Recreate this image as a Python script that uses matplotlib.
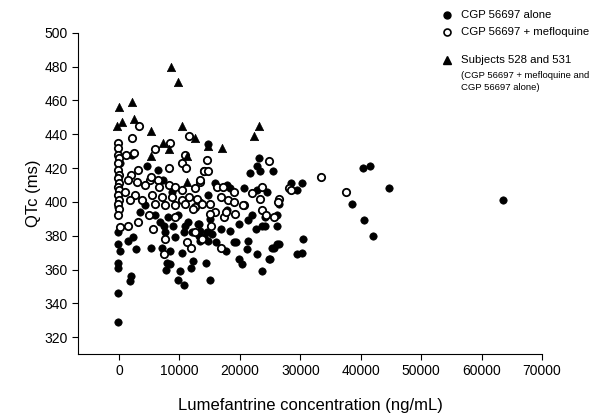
import matplotlib
matplotlib.use('Agg')
import matplotlib.pyplot as plt
from matplotlib.lines import Line2D

plt.rcParams['font.family'] = ['Liberation Sans', 'DejaVu Sans']

# CGP 56697 alone (filled circles)
alone_x = [-100, -200, 200, -100, -100, -100, -100, 200, -200,
           1500, 2300, 2800, 5300, 7100, 7400, 7600, 9000, 9200, 8500, 10500,
           10700, 12100, 13200, 7900, 8500, 7700, 12300, 11900, 10100, 9700,
           10800, 14400, 2000, 1800,
           10900, 13000, 13200, 13400, 15100, 14800, 17900, 22000, 24200, 26200,
           19800, 22600, 23700, 26200, 18400, 16800, 15400, 19000, 21400, 21200,
           26200, 25300, 22800, 24800, 19800, 20300, 23700, 15900, 17900, 20600,
           22800, 24500, 21700, 23400, 25400,
           14800, 23200, 22800, 18400, 13400, 26500, 21400, 24100, 15100, 14500,
           13400, 14000, 14800, 16100, 17700, 19400, 29500,
           40300, 41500, 44600, 28400, 30200, 29500, 38600, 40500, 42100, 30500,
           26500, 25600, 30300, 25000, 63500,
           2100, 4600, 6500, 7200, 8700,
           6800, 8100, 9800, 11400, 6000, 4300, 3500]
alone_y = [382, 375, 371, 364, 361, 346, 329, 423, 397,
           377, 379, 372, 373, 373, 386, 382, 386, 379, 371, 370,
           382, 382, 387, 364, 363, 360, 365, 361, 359, 354,
           351, 364, 356, 353,
           386, 387, 380, 377, 354, 404, 395, 392, 391, 392,
           387, 384, 386, 386, 383, 384, 381, 376, 377, 372,
           375, 373, 369, 366, 366, 363, 359, 411, 410, 408,
           407, 406, 417, 418, 418,
           434, 426, 421, 408, 400, 399, 389, 386, 390, 382,
           383, 379, 377, 376, 371, 376, 369,
           420, 421, 408, 411, 411, 407, 399, 389, 380, 378,
           375, 373, 370, 366, 401,
           428, 421, 419, 413, 406,
           388, 391, 392, 388, 392, 398, 394]

# CGP 56697 + mefloquine (open circles)
combo_x = [-200, -150, -200, 0, -200, -200, 0, -200, 0, -200, 0, -100, 0,
           -200, 0, -100, 200,
           3300, 2100, 8500, 6000, 2500, 1100, 10900, 11600, 10400, 11100,
           14000, 8200, 3200, 2000, 1500, 2900, 5100, 6500, 4300, 6600, 8200,
           9300, 10400, 12600, 13400, 1000, 2700, 5400, 7100, 8700, 10400,
           11500, 12900, 1800, 3800, 6000, 7600, 9300, 12600,
           1500, 3200, 4900, 9300, 10900, 12300, 5700, 7600, 11200, 11900,
           13700, 7400, 12600,
           14500, 24800, 14100, 14800, 13400, 16200, 17200, 22000, 23700,
           16800, 18000, 19000, 23300, 20600, 26500, 26300, 15100,
           13700, 15900, 15000, 17300, 17700, 19200, 20500, 23700, 24400,
           15300, 16800, 19100, 25600,
           33500, 37600, 28200, 28500, 5300]
combo_y = [435, 432, 428, 426, 423, 419, 416, 414, 411, 409, 407, 404, 401,
           399, 396, 392, 385,
           445, 438, 435, 431, 429, 428, 428, 439, 423, 420,
           418, 420, 419, 416, 413, 412, 413, 413, 410, 409, 410,
           409, 407, 408, 412, 406, 404, 404, 403, 403, 401,
           403, 402, 401, 401, 399, 398, 398, 397,
           386, 388, 392, 391, 399, 396, 384, 378, 376, 373,
           378, 369, 382,
           425, 424, 418, 418, 413, 409, 409, 405, 409,
           403, 401, 400, 402, 398, 402, 400, 399,
           399, 394, 393, 391, 394, 393, 398, 395, 392,
           386, 373, 406, 391,
           415, 406, 408, 407, 415]

# Subjects 528 and 531 (filled triangles)
subj_x = [8600, 9700, 0, 2200, -300, 500, 2400, 5300, 10400, 12600, 7200,
          8300, 5300, 11200, 17000, 23100, 22300, 14800, 11300]
subj_y = [480, 471, 456, 459, 445, 447, 449, 442, 445, 438, 435,
          431, 427, 427, 432, 445, 439, 433, 412]

fig = plt.figure(figsize=(5.95, 4.16), dpi=100)
ax = fig.add_axes([0.131, 0.149, 0.78, 0.772])

ax.scatter(alone_x, alone_y, s=28, c='black', edgecolors='black',
           linewidths=0.5, zorder=3)
ax.scatter(combo_x, combo_y, s=28, facecolors='white', edgecolors='black',
           linewidths=1.3, zorder=3)
ax.scatter(subj_x, subj_y, s=36, c='black', marker='^', edgecolors='black',
           linewidths=0.5, zorder=4)

ax.set_xlim(-6800, 70000)
ax.set_ylim(310, 500)
ax.set_xticks(range(0, 70001, 10000))
ax.set_yticks(range(320, 501, 20))
ax.spines['top'].set_visible(False)
ax.spines['right'].set_visible(False)
ax.tick_params(direction='out', length=4, width=0.8, labelsize=10)
ax.set_xlabel('Lumefantrine concentration (ng/mL)', fontsize=12, labelpad=14)
ax.set_ylabel('QTc (ms)', fontsize=12, labelpad=2)

# legend drawn by hand (uneven spacing in the original)
lx, tx = 447 / 595, 461 / 595
fig.add_artist(Line2D([lx], [1 - 15 / 416], marker='o', color='black',
                      markersize=5, linestyle='none'))
fig.add_artist(Line2D([lx], [1 - 32 / 416], marker='o', markerfacecolor='white',
                      markeredgecolor='black', markeredgewidth=1.2,
                      markersize=5, linestyle='none'))
fig.add_artist(Line2D([lx], [1 - 60 / 416], marker='^', color='black',
                      markersize=6, linestyle='none'))
fig.text(tx, 1 - 15 / 416, 'CGP 56697 alone', fontsize=8.2, va='center')
fig.text(tx, 1 - 32 / 416, 'CGP 56697 + mefloquine', fontsize=8.2, va='center')
fig.text(tx, 1 - 60 / 416, 'Subjects 528 and 531', fontsize=8.2, va='center')
fig.text(tx, 1 - 75 / 416, '(CGP 56697 + mefloquine and', fontsize=6.8, va='center')
fig.text(tx, 1 - 87 / 416, 'CGP 56697 alone)', fontsize=6.8, va='center')

fig.savefig('out.png', dpi=100)
